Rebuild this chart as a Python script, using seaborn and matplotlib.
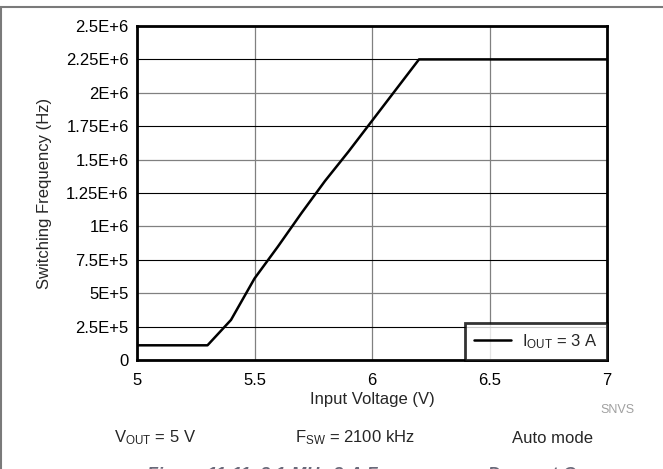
import matplotlib
matplotlib.use("Agg")
import matplotlib.pyplot as plt
from matplotlib.lines import Line2D
import seaborn as sns
import pandas as pd

# values
input_voltage = [5.0, 5.3, 5.4, 5.5, 5.6, 5.7, 5.8, 5.9, 6.0, 6.1, 6.2, 7.0]
switching_freq = [1.1e5, 1.1e5, 3.0e5, 6.1e5, 8.5e5, 1.1e6, 1.34e6, 1.56e6,
                  1.79e6, 2.02e6, 2.25e6, 2.25e6]

x_ticks = [5, 5.5, 6, 6.5, 7]
x_tick_labels = ["5", "5.5", "6", "6.5", "7"]
y_ticks = [0, 2.5e5, 5e5, 7.5e5, 1e6, 1.25e6, 1.5e6, 1.75e6, 2e6, 2.25e6, 2.5e6]
y_tick_labels = ["0", "2.5E+5", "5E+5", "7.5E+5", "1E+6", "1.25E+6", "1.5E+6",
                 "1.75E+6", "2E+6", "2.25E+6", "2.5E+6"]
series_label = r"I$_{\mathregular{OUT}}$ = 3 A"

df = pd.DataFrame({"vin": input_voltage, "fsw": switching_freq})

sns.set_style("white")
plt.rcParams["font.family"] = ["Liberation Sans", "DejaVu Sans"]
plt.rcParams["mathtext.fontset"] = "custom"
plt.rcParams["mathtext.rm"] = "Liberation Sans"
plt.rcParams["mathtext.default"] = "regular"

fig = plt.figure(figsize=(6.63, 4.69), dpi=100)
ax = fig.add_axes([137 / 663, 1 - 360 / 469, 470 / 663, 334 / 469])

sns.lineplot(data=df, x="vin", y="fsw", ax=ax, color="black", linewidth=1.8,
             label=series_label)

ax.set_xlim(5, 7)
ax.set_ylim(0, 2.5e6)
ax.set_xticks(x_ticks)
ax.set_xticklabels(x_tick_labels)
ax.set_yticks(y_ticks)
ax.set_yticklabels(y_tick_labels)
ax.tick_params(length=0, labelsize=12, colors="black")
ax.tick_params(axis="x", pad=9)
ax.tick_params(axis="y", pad=6)

# grid: vertical grey, horizontal alternate black / grey
ax.grid(True, color="#808080", linewidth=0.9)
for i, gl in enumerate(ax.get_ygridlines()):
    if i % 2 == 1:
        gl.set_color("black")
        gl.set_linewidth(0.8)

for sp in ax.spines.values():
    sp.set_visible(True)
    sp.set_color("black")
    sp.set_linewidth(2.0)

ax.set_xlabel("Input Voltage (V)", fontsize=12, labelpad=3)
ax.set_ylabel("Switching Frequency (Hz)", fontsize=12, labelpad=10)

leg = ax.legend(loc="lower right", fontsize=12, frameon=True, fancybox=False,
                borderaxespad=0, handlelength=2.2, handletextpad=0.7,
                borderpad=0.55)
leg.get_frame().set_edgecolor("black")
leg.get_frame().set_linewidth(2.0)

# page border and notes
fig.add_artist(Line2D([0, 1], [1 - 7.5 / 469] * 2, color="#7a7a7a", linewidth=1.5))
fig.add_artist(Line2D([1.2 / 663] * 2, [0, 1 - 7.5 / 469], color="#7a7a7a", linewidth=1.5))

fig.text(635 / 663, 1 - 410 / 469, "SNVS", fontsize=9, color="#a0a0a0",
         ha="right", va="center")
fig.text(155 / 663, 1 - 438 / 469, r"V$_{\mathregular{OUT}}$ = 5 V", fontsize=12,
         ha="center", va="center")
fig.text(355 / 663, 1 - 438 / 469, r"F$_{\mathregular{SW}}$ = 2100 kHz", fontsize=12,
         ha="center", va="center")
fig.text(553 / 663, 1 - 438 / 469, "Auto mode", fontsize=12,
         ha="center", va="center")
# caption below the chart, cut off by the lower edge as in the source page
fig.text(380 / 663, 1 - 466.5 / 469, "Figure 11-11. 2.1-MHz 3-A Frequency vs Dropout Curve",
         fontsize=13, color="#6a6a7a", ha="center", va="top", style="italic",
         weight="bold")

fig.savefig("out.png", dpi=100)
